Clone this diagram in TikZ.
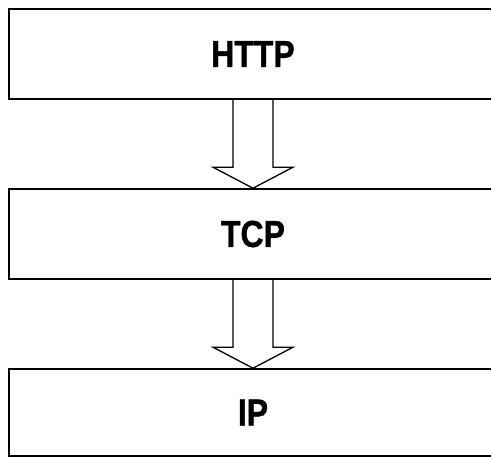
\documentclass[tikz,border=0pt]{standalone}
\usepackage{fontspec}
\newfontfamily\layerfont{Liberation Sans}[FakeStretch=0.85, BoldFeatures={FakeBold=1}]
\usetikzlibrary{calc}
\tikzset{
	layer/.style={draw=black, line width=0.9pt, fill=white, minimum width=9.76cm, minimum height=1.8cm,
		font=\layerfont\bfseries\fontsize{21.4}{24}\selectfont},
	layerarrow/.style={draw=black, line width=0.75pt, line join=miter}
}
\begin{document}
\begin{tikzpicture}[x=0.02cm, y=0.02cm]
			\useasboundingbox (0,0) rectangle (491,457);
			\clip (0,0) rectangle (491,457);
			\node[layer] (http) at (253, 403) {HTTP};
			\node[layer] (tcp) at (253, 223) {TCP};
			\node[layer, minimum height=1.74cm] (ip) at (253, 44.5) {IP};
			\draw[layerarrow] ($(http.south)+(-20,0)$) -- ($(tcp.north)+(-20,21)$) -- ++(-20,0) -- (tcp.north) -- ($(tcp.north)+(40,21)$) -- ++(-20,0) -- ($(http.south)+(20,0)$);
			\draw[layerarrow] ($(tcp.south)+(-20,0)$) -- ($(ip.north)+(-20,21)$) -- ++(-20,0) -- (ip.north) -- ($(ip.north)+(40,21)$) -- ++(-20,0) -- ($(tcp.south)+(20,0)$);
\end{tikzpicture}
\end{document}
